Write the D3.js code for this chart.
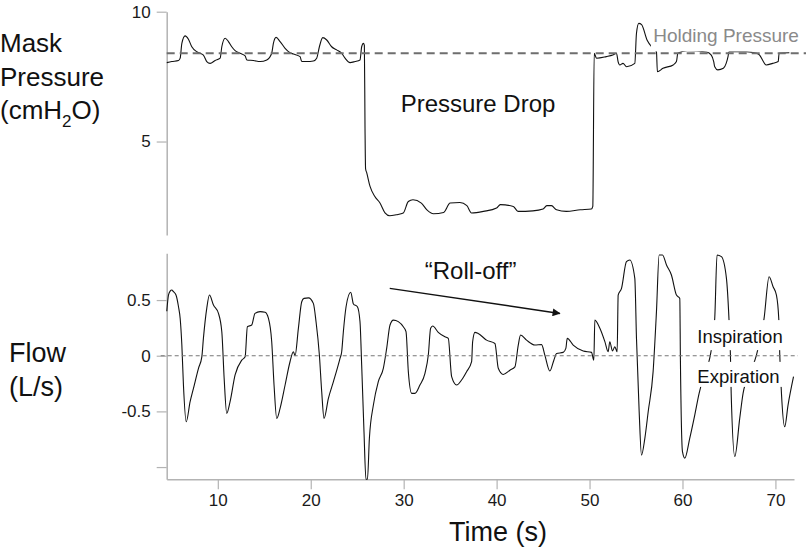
<!DOCTYPE html>
<html>
<head>
<meta charset="utf-8">
<script src="https://cdn.jsdelivr.net/npm/d3@7"></script>
<style>
  html, body { margin: 0; padding: 0; background: #fff; }
  svg { display: block; }
  text { font-family: "Liberation Sans", Arial, sans-serif; }
</style>
</head>
<body>
<svg id="chart" width="812" height="549"></svg>
<script>
// ---------- DATA ----------
const xTicks = [10, 20, 30, 40, 50, 60, 70];
const pressureTicks = [5, 10];
const flowTicks = [-1, -0.5, 0, 0.5];
const flowTickLabels = ["", "-0.5", "0", "0.5"];
const holdingPressure = 8.4;

const pressureTime = [4.51,5.05,5.77,5.95,6.13,6.48,6.84,7.2,7.74,8.1,8.45,8.81,9.17,9.71,10.25,10.43,10.79,11.14,11.5,11.86,12.4,12.94,13.12,13.83,14.55,15.27,15.8,15.98,16.27,16.7,17.24,17.77,18.13,18.85,19.03,19.57,20.28,20.64,20.93,21.29,21.72,22.25,22.79,23.33,23.69,24.23,24.76,25.3,25.48,25.66,25.77,25.84,25.9,26.02,26.38,26.9,27.45,27.99,28.5,29.2,29.96,30.5,31.0,31.9,32.5,33.2,34.3,35.0,36.05,36.8,37.3,38.6,40.0,40.4,41.8,42.3,43.9,45.0,45.4,45.9,46.45,47.5,49.0,50.2,50.35,50.5,50.75,51.8,52.5,52.9,53.07,53.26,53.6,53.98,54.87,55.05,55.3,55.6,56.2,56.8,57.2,57.3,57.9,59.0,59.35,59.5,60.5,62.6,63.1,63.36,63.47,63.8,64.4,64.7,64.9,65.0,66.9,67.96,68.3,68.7,69.0,69.7,70.3,70.4,71.5];
const pressureValue = [8.04,8.08,8.12,8.21,8.78,9.07,8.94,8.65,8.46,8.40,8.33,8.08,8.01,8.12,8.21,8.65,8.98,8.85,8.65,8.5,8.40,8.3,8.14,8.12,8.08,8.14,8.40,8.78,9.01,8.85,8.59,8.42,8.37,8.27,8.08,8.08,8.10,8.21,8.65,9.0,8.91,8.65,8.53,8.40,8.21,8.04,8.08,8.14,8.65,8.78,8.7,5.5,3.95,3.8,3.27,2.88,2.63,2.25,2.14,2.18,2.25,2.69,2.76,2.63,2.37,2.22,2.27,2.63,2.65,2.53,2.25,2.31,2.44,2.57,2.5,2.31,2.33,2.40,2.53,2.53,2.37,2.31,2.37,2.40,2.5,8.40,8.21,8.27,8.33,8.40,8.08,7.95,8.01,7.88,8.01,9.17,9.55,9.5,8.9,8.6,8.46,7.69,7.82,7.95,8.08,8.40,8.5,8.45,8.33,8.08,7.88,7.76,7.82,8.01,8.27,8.46,8.46,8.40,8.33,8.08,7.95,8.01,8.08,8.40,8.42];

const flowTime = [4.51,4.69,4.87,5.05,5.23,5.5,5.77,5.95,6.13,6.3,6.6,7.02,7.38,7.92,8.28,8.45,8.81,9.1,9.53,10.07,10.43,10.68,10.96,11.32,11.86,12.58,12.94,13.18,13.65,14.0,14.55,15.09,15.45,15.8,16.05,16.34,16.7,17.24,17.77,18.13,18.31,18.67,19.03,19.28,19.75,20.28,20.57,20.93,21.18,21.43,21.9,22.44,23.15,23.33,23.51,23.8,24.3,24.59,25.02,25.3,25.48,25.73,25.94,26.1,26.31,26.74,27.27,27.81,28.17,28.53,28.89,29.42,29.96,30.25,30.5,30.86,31.21,31.75,32.29,32.65,32.9,33.12,33.72,34.44,34.8,35.16,35.7,36.23,36.77,37.31,37.42,37.67,38.02,38.92,39.82,40.18,40.71,41.43,41.97,42.33,42.58,43.22,44.12,44.84,45.19,45.73,46.16,46.45,47.16,47.45,47.6,48.24,49.32,50.21,50.46,50.57,51.11,51.65,52.0,52.18,52.47,52.72,52.97,53.08,53.44,53.97,54.33,54.87,55.05,55.34,55.59,55.95,56.31,56.84,57.2,57.49,57.85,58.28,58.81,59.35,59.71,59.78,60.0,60.25,60.78,61.32,61.79,62.4,62.94,63.47,63.72,64.19,64.73,65.0,65.16,65.24,65.63,66.16,66.52,67.3,67.96,68.78,69.32,69.75,70.11,70.36,70.47,70.65,71.0,71.36,71.95];
const flowValue = [0.40,0.545,0.58,0.59,0.575,0.545,0.44,0.335,0.096,-0.26,-0.593,-0.413,-0.293,-0.113,-0.01,0.156,0.425,0.545,0.455,0.38,0.216,-0.2,-0.518,-0.413,-0.173,-0.04,-0.01,0.26,0.276,0.38,0.396,0.39,0.335,0.126,-0.263,-0.563,-0.473,-0.263,-0.054,0.036,0.0,0.246,0.485,0.515,0.52,0.47,0.305,0.005,-0.323,-0.563,-0.383,-0.233,-0.024,0.036,0.216,0.44,0.57,0.465,0.44,0.305,-0.084,-0.682,-1.11,-1.11,-0.742,-0.443,-0.233,-0.113,0.066,0.276,0.32,0.306,0.26,0.216,-0.143,-0.338,-0.338,-0.263,-0.158,0.006,0.246,0.267,0.21,0.17,0.156,-0.188,-0.263,-0.218,-0.143,-0.054,0.126,0.21,0.2,0.14,0.11,-0.113,-0.168,-0.13,-0.1,0.096,0.186,0.14,0.096,0.1,0.006,-0.137,-0.04,0.02,0.03,0.066,0.156,0.096,0.042,0.03,-0.04,0.32,0.246,0.126,0.036,0.126,0.042,0.08,0.036,0.545,0.605,0.845,0.86,0.695,0.156,-0.503,-0.893,-0.742,-0.503,-0.143,0.396,0.905,0.905,0.815,0.725,0.545,0.515,-0.054,-0.862,-0.92,-0.742,-0.533,-0.338,-0.15,-0.02,0.335,0.905,0.89,0.695,0.335,0.006,-0.338,-0.905,-0.563,-0.338,-0.15,0.006,0.335,0.71,0.62,0.545,0.335,0.006,-0.338,-0.638,-0.443,-0.188];

// ---------- SCALES ----------
const svg = d3.select("#chart");
const x = d3.scaleLinear().domain([4.5, 72]).range([166.7, 794]);
const yP = d3.scaleLinear().domain([1.4, 10]).range([235, 11.7]);
const yF = d3.scaleLinear().domain([-1.11, 0.92]).range([479.3, 253.3]);

const axisColor = "#b3b3b3";
function styleAxis(g, fs) {
  g.selectAll("path.domain").attr("stroke", axisColor).attr("stroke-width", 1.5);
  g.selectAll(".tick line").attr("stroke", axisColor).attr("stroke-width", 1.2);
  g.selectAll(".tick text").attr("fill", "#1a1a1a")
    .style("font-family", '"Liberation Sans", Arial, sans-serif').style("font-size", fs + "px");
}

// Pressure axis
const gP = svg.append("g").attr("transform", `translate(${x.range()[0]},0)`)
  .call(d3.axisLeft(yP).tickValues(pressureTicks).tickFormat(d3.format("d")).tickSize(10).tickPadding(6).tickSizeOuter(0));
styleAxis(gP, 17);

// Flow axis
const gF = svg.append("g").attr("transform", `translate(${x.range()[0]},0)`)
  .call(d3.axisLeft(yF).tickValues(flowTicks).tickFormat((d, i) => flowTickLabels[i]).tickSize(10).tickPadding(6).tickSizeOuter(0));
styleAxis(gF, 17);

// X axis
const gX = svg.append("g").attr("transform", `translate(0,${yF.range()[0]})`)
  .call(d3.axisBottom(x).tickValues(xTicks).tickFormat(d3.format("d")).tickSize(10).tickPadding(5).tickSizeOuter(0));
styleAxis(gX, 17);

// ---------- LINES ----------
const pLine = d3.line().curve(d3.curveMonotoneX).x((d, i) => x(pressureTime[i])).y(d => yP(d));
svg.append("path").datum(pressureValue).attr("d", pLine)
  .attr("fill", "none").attr("stroke", "#111").attr("stroke-width", 1.1).attr("stroke-linejoin", "round");

const fLine = d3.line().curve(d3.curveMonotoneX).x((d, i) => x(flowTime[i])).y(d => yF(d));
svg.append("path").datum(flowValue).attr("d", fLine)
  .attr("fill", "none").attr("stroke", "#111").attr("stroke-width", 1.1).attr("stroke-linejoin", "round");

// ---------- ANNOTATION BOXES (white backgrounds) ----------
function labelBox(x0, y0, x1, y1) {
  svg.append("rect").attr("x", x0).attr("y", y0).attr("width", x1 - x0).attr("height", y1 - y0).attr("fill", "#fff");
}
labelBox(x(56.6), yP(9.55), 803, yP(8.47));
labelBox(x(61.55), yF(0.32), x(71.6), yF(0.05));
labelBox(x(61.55), yF(-0.055), x(71.0), yF(-0.28));

// Holding pressure dashed line
svg.append("line").attr("x1", x(4.5)).attr("x2", 806)
  .attr("y1", yP(holdingPressure)).attr("y2", yP(holdingPressure))
  .attr("stroke", "#6e6e6e").attr("stroke-width", 2).attr("stroke-dasharray", "8,5");

// Zero flow dashed line
svg.append("line").attr("x1", x(4.5) - 6).attr("x2", 798)
  .attr("y1", yF(0)).attr("y2", yF(0))
  .attr("stroke", "#777").attr("stroke-width", 1.1).attr("stroke-dasharray", "4,3");

// ---------- TEXT ----------
const font = '"Liberation Sans", Arial, sans-serif';
function txt(s, xx, yy, size, anchor, color) {
  return svg.append("text").attr("x", xx).attr("y", yy).attr("text-anchor", anchor || "start")
    .style("font-family", font).style("font-size", size + "px").attr("fill", color || "#111").text(s);
}

txt("Holding Pressure", x(56.85), yP(8.85), 19, "start", "#8a8a8a");
txt("Pressure Drop", x(38.0), yP(6.15), 24, "middle");
txt("\u201CRoll-off\u201D", x(37.2), yF(0.69), 24, "middle");
txt("Inspiration", x(61.6), yF(0.117), 18.5, "start");
txt("Expiration", x(61.6), yF(-0.248), 18.5, "start");

// Arrow for roll-off
svg.append("defs").append("marker").attr("id", "arrow")
  .attr("viewBox", "0 0 10 10").attr("refX", 9).attr("refY", 5)
  .attr("markerWidth", 10).attr("markerHeight", 8).attr("markerUnits", "userSpaceOnUse")
  .attr("orient", "auto")
  .append("path").attr("d", "M0,0 L10,5 L0,10 z").attr("fill", "#111");
svg.append("line").attr("x1", x(28.5)).attr("y1", yF(0.605)).attr("x2", x(46.8)).attr("y2", yF(0.38))
  .attr("stroke", "#111").attr("stroke-width", 1.5).attr("marker-end", "url(#arrow)");

// Axis titles
const tl = svg.append("text").style("font-family", font).style("font-size", "26px").attr("fill", "#111");
tl.append("tspan").attr("x", 0).attr("y", 52).text("Mask");
tl.append("tspan").attr("x", 0).attr("y", 86).text("Pressure");
tl.append("tspan").attr("x", 0).attr("y", 119).text("(cmH");
tl.append("tspan").attr("dy", 8).style("font-size", "17px").text("2");
tl.append("tspan").attr("dy", -8).text("O)");

const fl = svg.append("text").style("font-family", font).style("font-size", "27px").attr("fill", "#111");
fl.append("tspan").attr("x", 9).attr("y", 362).text("Flow");
fl.append("tspan").attr("x", 9).attr("y", 396).text("(L/s)");

txt("Time (s)", 498, 541, 27, "middle");
</script>
</body>
</html>
